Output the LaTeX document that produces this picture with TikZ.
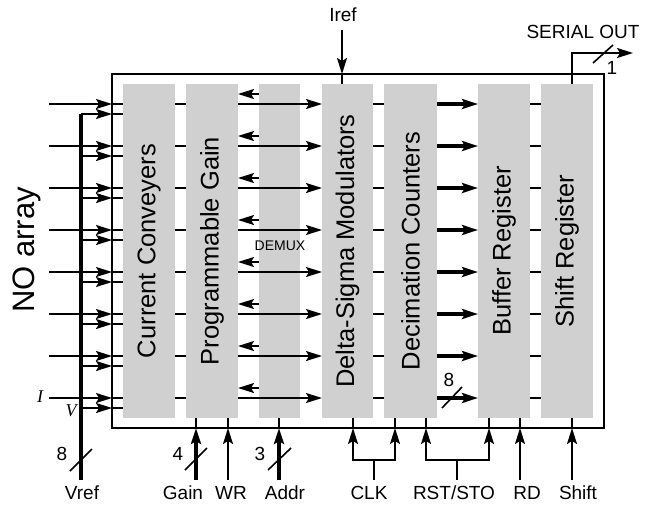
\documentclass[tikz,border=0pt]{standalone}
\usepackage{fontspec}
\setmainfont{Liberation Sans}
\newfontfamily\timesfont{Liberation Serif}
\usetikzlibrary{arrows.meta,positioning}
\definecolor{blockgray}{RGB}{208,208,208}

\begin{document}
\begin{tikzpicture}[
        x=1pt, y=-1pt,
        every node/.style={inner sep=0pt, outer sep=0pt},
        block/.style={fill=blockgray, minimum height=334pt, minimum width=52pt},
        blocktext/.style={rotate=90, font=\fontsize{25.5}{26}\selectfont},
        sig/.style={font=\fontsize{19}{20}\selectfont},
        wire/.style={line width=1.7pt},
        arrow/.style={wire, -{Stealth[length=16pt, width=10pt, inset=3pt]}},
        thickarrow/.style={arrow, line width=3.2pt},
        bus/.style={arrow, line width=3.4pt},
        slash/.style={line width=1.6pt},
    ]
        \useasboundingbox (0,0) rectangle (647,506);

        % Outer chip box
        \node (box) [draw, line width=1.8pt, minimum width=492pt, minimum height=354pt] at (358,251) {};

        % Processing blocks, left to right
        \node (cc) [block] at (149,251) {};
        \node (pg) [block, right=11pt of cc] {};
        \node (dmx) [block, minimum width=41pt, right=21pt of pg] {};
        \node (dsm) [block, minimum width=51pt, right=22pt of dmx] {};
        \node (dc) [block, minimum width=53pt, right=11pt of dsm] {};
        \node (br) [block, right=41pt of dc] {};
        \node (sr) [block, right=11pt of br] {};

        \node (cc-t) [blocktext] at (cc) {Current Conveyers};
        \node (pg-t) [blocktext] at (pg) {Programmable Gain};
        \node (dsm-t) [blocktext] at (dsm) {Delta-Sigma Modulators};
        \node (dc-t) [blocktext] at (dc) {Decimation Counters};
        \node (br-t) [blocktext] at (br) {Buffer Register};
        \node (sr-t) [blocktext] at (sr) {Shift Register};
        \node (dmx-t) [font=\fontsize{14}{14}\selectfont] at (280,246) {DEMUX};

        % Left side labels
        \node (noarray) [rotate=90, font=\fontsize{31}{31}\selectfont] at (27,250) {NO array};
        \node (ilbl) [font=\fontsize{18}{18}\selectfont\timesfont\itshape] at (40,397) {I};
        \node (vlbl) [font=\fontsize{18}{18}\selectfont\timesfont\itshape] at (71,411) {V};

        % Vref bus
        \node (vref) [sig] at (82,493) {Vref};
        \coordinate (vtop) at (81,114);
        \draw [wire, line width=3.6pt] (vtop |- 0,480) -- (vtop);
        \draw [slash] (70,471) -- (92,449);
        \node (vref-n) [sig] at (62,454) {8};

        % The eight channels
        \foreach \i in {0,...,7} {
            \pgfmathsetmacro\ry{104+42*\i}
            \coordinate (r\i) at (0,\ry);
            \coordinate (u\i) at (0,\ry-10);
            \coordinate (v\i) at (0,\ry+10);
            \coordinate (in\i) at (49,\ry);
            \draw [arrow] (in\i) -- (box.west |- r\i);
            \draw [wire] (box.west |- r\i) -- (cc.west |- r\i);
            \draw [arrow] (vtop |- v\i) -- (box.west |- v\i);
            \draw [wire] (box.west |- v\i) -- (cc.west |- v\i);
            \draw [wire] (cc.east |- r\i) -- (pg.west |- r\i);
            \draw [arrow] (dmx.west |- u\i) -- (pg.east |- u\i);
            \draw [arrow] (pg.east |- r\i) -- (dsm.west |- r\i);
            \draw [wire] (dsm.east |- r\i) -- (dc.west |- r\i);
            \draw [thickarrow] (dc.east |- r\i) -- (br.west |- r\i);
            \draw [wire] (br.east |- r\i) -- (sr.west |- r\i);
        }
        \draw [slash] (442,408) -- (462,387);
        \node (bus-n) [sig] at (449,380) {8};

        % Iref input
        \node (iref) [sig] at (343,15) {Iref};
        \coordinate (iref-f) at (342,30);
        \draw [arrow] (iref-f) -- (iref-f |- box.north);
        \draw [wire] (iref-f |- box.north) -- (iref-f |- dsm.north);

        % Serial output
        \node (sout-t) [sig] at (583,32) {SERIAL OUT};
        \coordinate (sout) at (633,53);
        \draw [arrow] ([xshift=5pt]sr.north) |- (sout);
        \draw [slash] (593,63) -- (613,45);
        \node (sout-n) [sig] at (612,68) {1};

        % Control inputs at the bottom
        \node (gain) [sig] at (183,493) {Gain};
        \node (wr) [sig] at (231,493) {WR};
        \node (addr) [sig] at (285,493) {Addr};
        \node (clk) [sig] at (369,493) {CLK};
        \node (rst) [sig] at (454,493) {RST/STO};
        \node (rd) [sig] at (527,493) {RD};
        \node (shift) [sig] at (578,493) {Shift};

        \coordinate (gain-f) at (196,480);
        \coordinate (wr-f) at (228,480);
        \coordinate (addr-f) at (279,480);
        \coordinate (rd-f) at (520,480);
        \coordinate (shift-f) at (572,480);

        \draw [bus] (gain-f) -- (gain-f |- box.south);
        \draw [wire] (gain-f |- box.south) -- (gain-f |- pg.south);
        \draw [slash] (185,470) -- (207,448);
        \node (gain-n) [sig] at (178,454) {4};

        \draw [arrow] (wr-f) -- (wr-f |- box.south);
        \draw [wire] (wr-f |- box.south) -- (wr-f |- pg.south);

        \draw [bus] (addr-f) -- (addr-f |- box.south);
        \draw [wire] (addr-f |- box.south) -- (addr-f |- dmx.south);
        \draw [slash] (268,470) -- (291,448);
        \node (addr-n) [sig] at (260,454) {3};

        % CLK fork
        \coordinate (clk-f) at (374,480);
        \coordinate (clk-j) at (374,460);
        \coordinate (clk-a) at (353,428);
        \coordinate (clk-b) at (395,428);
        \draw [wire] (clk-f) -- (clk-j);
        \draw [arrow] (clk-j) -| (clk-a);
        \draw [arrow] (clk-j) -| (clk-b);
        \draw [wire] (clk-a) -- (clk-a |- dsm.south);
        \draw [wire] (clk-b) -- (clk-b |- dc.south);

        % RST/STO fork
        \coordinate (rst-f) at (457,480);
        \coordinate (rst-j) at (457,460);
        \coordinate (rst-a) at (426,428);
        \coordinate (rst-b) at (489,428);
        \draw [wire] (rst-f) -- (rst-j);
        \draw [arrow] (rst-j) -| (rst-a);
        \draw [arrow] (rst-j) -| (rst-b);
        \draw [wire] (rst-a) -- (rst-a |- dc.south);
        \draw [wire] (rst-b) -- (rst-b |- br.south);

        \draw [arrow] (rd-f) -- (rd-f |- box.south);
        \draw [wire] (rd-f |- box.south) -- (rd-f |- br.south);

        \draw [arrow] (shift-f) -- (shift-f |- box.south);
        \draw [wire] (shift-f |- box.south) -- (shift-f |- sr.south);

    \end{tikzpicture}
\end{document}
